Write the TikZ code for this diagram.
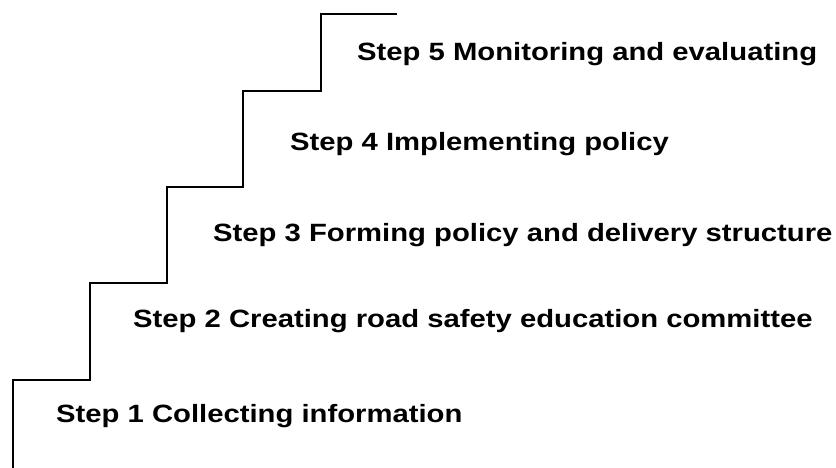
\documentclass[tikz,border=0pt]{standalone}
\usepackage{graphicx}
\usepackage{fontspec}
\setmainfont{Liberation Sans}
\newcommand{\widetext}[1]{\scalebox{1.17}[1]{#1}}
\begin{document}
\begin{tikzpicture}[x=1pt,y=-1pt,
  steplabel/.style={anchor=base west,inner sep=0pt,font=\fontsize{25}{28}\selectfont\bfseries},
  stair/.style={draw=black,line width=1.6pt,line join=miter}]
\useasboundingbox (0,0) rectangle (836,468);
\coordinate (s0) at (13,468);
\coordinate (s1) at (13,380);
\coordinate (s2) at (90,380);
\coordinate (s3) at (90,283);
\coordinate (s4) at (167,283);
\coordinate (s5) at (167,187);
\coordinate (s6) at (243,187);
\coordinate (s7) at (243,91);
\coordinate (s8) at (321,91);
\coordinate (s9) at (321,14);
\coordinate (s10) at (397,14);
\draw[stair] (s0) -- (s1) -- (s2) -- (s3) -- (s4) -- (s5) -- (s6) -- (s7) -- (s8) -- (s9) -- (s10);
\node[steplabel] (t1) at (56,422) {\widetext{Step 1 Collecting information}};
\node[steplabel] (t2) at (133,327) {\widetext{Step 2 Creating road safety education committee}};
\node[steplabel] (t3) at (213,241) {\widetext{Step 3 Forming policy and delivery structure}};
\node[steplabel] (t4) at (290,151) {\widetext{Step 4 Implementing policy}};
\node[steplabel] (t5) at (357,61) {\widetext{Step 5 Monitoring and evaluating}};
\end{tikzpicture}
\end{document}
